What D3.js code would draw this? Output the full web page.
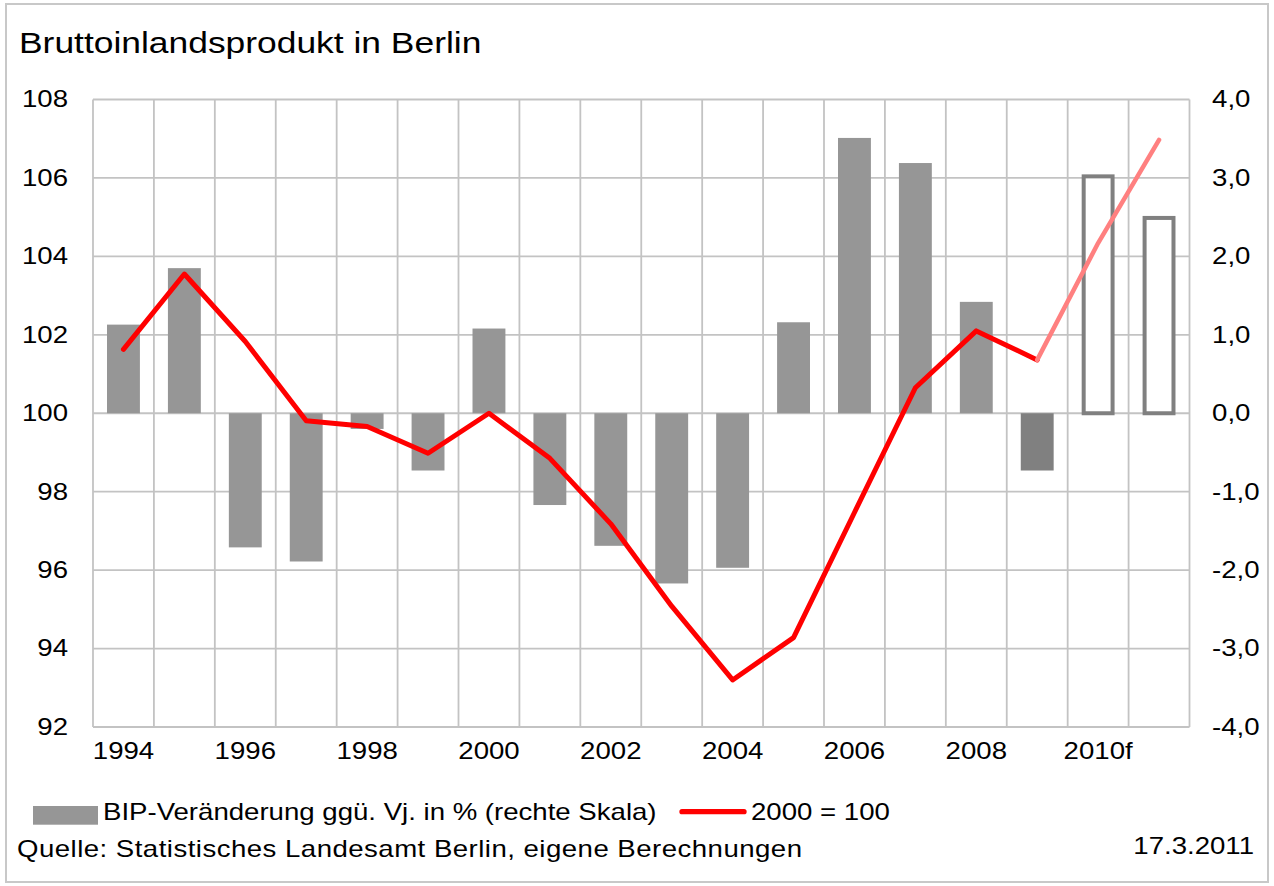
<!DOCTYPE html>
<html>
<head>
<meta charset="utf-8">
<script src="https://cdn.jsdelivr.net/npm/d3@7"></script>
<style>
  body { margin: 0; background: #fff; }
  svg { display: block; }
  text { font-family: "Liberation Sans", Arial, sans-serif; fill: #000; }
</style>
</head>
<body>
<svg id="chart" width="1274" height="886"></svg>
<script>
// data
const years = ["1994", "1995", "1996", "1997", "1998", "1999", "2000", "2001", "2002",
  "2003", "2004", "2005", "2006", "2007", "2008", "2009", "2010", "2011"];
// BIP-Veränderung ggü. Vorjahr in % (rechte Skala)
const bipChange = [1.13, 1.85, -1.71, -1.89, -0.20, -0.73, 1.08, -1.17, -1.69,
  -2.17, -1.97, 1.16, 3.51, 3.19, 1.42, -0.73, 3.02, 2.49];
// Index 2000 = 100 (linke Skala)
const bipIndex = [101.63, 103.55, 101.83, 99.81, 99.66, 98.98, 100.0, 98.85, 97.18,
  95.08, 93.2, 94.28, 97.47, 100.65, 102.1, 101.36, 104.34, 106.97];
// ist = amtlich, vorl = vorläufig, prog = Prognose
const barStatus = ["ist", "ist", "ist", "ist", "ist", "ist", "ist", "ist", "ist",
  "ist", "ist", "ist", "ist", "ist", "ist", "vorl", "prog", "prog"];
const lastActualYear = "2009";

const xTickYears = ["1994", "1996", "1998", "2000", "2002", "2004", "2006", "2008", "2010"];
const xTickLabels = ["1994", "1996", "1998", "2000", "2002", "2004", "2006", "2008", "2010f"];
const leftTicks = [92, 94, 96, 98, 100, 102, 104, 106, 108];
const rightTicks = [-4, -3, -2, -1, 0, 1, 2, 3, 4];

const SX = 1.2; // text in the original is drawn a little wide
const plot = { left: 93, right: 1189.5, top: 99.5, bottom: 727 };

const svg = d3.select("#chart");

// outer frame
svg.append("rect")
  .attr("x", 6).attr("y", 4).attr("width", 1262).attr("height", 878)
  .attr("fill", "none").attr("stroke", "#c8c8c8").attr("stroke-width", 2);

svg.append("text")
  .attr("transform", `translate(19,53) scale(${SX},1)`)
  .style("font-size", "29.5px")
  .text("Bruttoinlandsprodukt in Berlin");

let x = d3.scaleBand()
  .domain(years)
  .range([plot.left, plot.right])
  .paddingInner(0.46)
  .paddingOuter(0.23);

let yLeft = d3.scaleLinear().domain([92, 108]).range([plot.bottom, plot.top]);
let yRight = d3.scaleLinear().domain([-4, 4]).range([plot.bottom, plot.top]);

// grid
const grid = svg.append("g")
  .attr("stroke", "#c3c3c3")
  .attr("stroke-width", 1.8);

grid.selectAll(".hgrid")
  .data(leftTicks)
  .enter().append("line")
  .attr("class", "hgrid")
  .attr("x1", plot.left).attr("x2", plot.right)
  .attr("y1", d => yLeft(d)).attr("y2", d => yLeft(d));

const cellEdges = years.map(yr => x(yr) - x.step() * x.paddingInner() / 2).concat([plot.right]);
grid.selectAll(".vgrid")
  .data(cellEdges)
  .enter().append("line")
  .attr("class", "vgrid")
  .attr("x1", d => d).attr("x2", d => d)
  .attr("y1", plot.top).attr("y2", plot.bottom);

// bars (right scale)
const bars = years.map((yr, i) => ({ yr: yr, v: bipChange[i], s: barStatus[i] }));
const barFill = { ist: "#969696", vorl: "#808080", prog: "#fff" };

svg.append("g").selectAll("rect")
  .data(bars)
  .enter().append("rect")
  .attr("x", d => d.s === "prog" ? x(d.yr) + 2 : x(d.yr))
  .attr("width", d => d.s === "prog" ? x.bandwidth() - 4 : x.bandwidth())
  .attr("y", d => yRight(Math.max(0, d.v)))
  .attr("height", d => Math.abs(yRight(d.v) - yRight(0)))
  .attr("fill", d => barFill[d.s])
  .attr("stroke", d => d.s === "prog" ? "#808080" : "none")
  .attr("stroke-width", 4);

// index line (left scale)
const points = years.map((yr, i) => ({ yr: yr, v: bipIndex[i] }));
const cut = years.indexOf(lastActualYear);

let line = d3.line()
  .x(d => x(d.yr) + x.bandwidth() / 2)
  .y(d => yLeft(d.v));

svg.append("path")
  .datum(points.slice(0, cut + 1))
  .attr("d", line)
  .attr("fill", "none")
  .attr("stroke", "#ff0000")
  .attr("stroke-width", 5)
  .attr("stroke-linejoin", "round")
  .attr("stroke-linecap", "round");

svg.append("path")
  .datum(points.slice(cut))
  .attr("d", line)
  .attr("fill", "none")
  .attr("stroke", "#ff8080")
  .attr("stroke-width", 4.5)
  .attr("stroke-linejoin", "round")
  .attr("stroke-linecap", "round");

// axes
const de = d3.formatLocale({ decimal: ",", thousands: ".", grouping: [3], currency: ["", " €"], minus: "-" });

function styleAxis(g) {
  g.select(".domain").remove();
  g.attr("font-size", null).attr("font-family", null);
  g.selectAll("text")
    .attr("transform", `scale(${SX},1)`)
    .style("font-size", "23px");
}

svg.append("g")
  .attr("transform", `translate(${plot.left},0)`)
  .call(d3.axisLeft(yLeft).tickValues(leftTicks).tickSize(0).tickPadding(20.8).tickFormat(d3.format("d")))
  .call(styleAxis);

svg.append("g")
  .attr("transform", `translate(${plot.right},0)`)
  .call(d3.axisRight(yRight).tickValues(rightTicks).tickSize(0).tickPadding(18.8).tickFormat(de.format(".1f")))
  .call(styleAxis);

svg.append("g")
  .attr("transform", `translate(0,${plot.bottom})`)
  .call(d3.axisBottom(x).tickValues(xTickYears).tickSize(0).tickPadding(16)
    .tickFormat(d => xTickLabels[xTickYears.indexOf(d)]))
  .call(styleAxis);

// legend
svg.append("rect")
  .attr("x", 33).attr("y", 806).attr("width", 65).attr("height", 18.7)
  .attr("fill", barFill.ist);
svg.append("text")
  .attr("transform", `translate(103,820) scale(${SX},1)`)
  .style("font-size", "23px")
  .text("BIP-Veränderung ggü. Vj. in % (rechte Skala)");

svg.append("line")
  .attr("x1", 682).attr("x2", 744).attr("y1", 811.7).attr("y2", 811.7)
  .attr("stroke", "#ff0000").attr("stroke-width", 5.3).attr("stroke-linecap", "round");
svg.append("text")
  .attr("transform", `translate(751,819.5) scale(${SX},1)`)
  .style("font-size", "23px")
  .text("2000 = 100");

// source and date
svg.append("text")
  .attr("transform", `translate(17,857) scale(${SX},1)`)
  .style("font-size", "23px")
  .attr("textLength", 785 / SX)
  .attr("lengthAdjust", "spacing")
  .text("Quelle: Statistisches Landesamt Berlin, eigene Berechnungen");

svg.append("text")
  .attr("transform", `translate(1254,854) scale(${SX},1)`)
  .attr("text-anchor", "end")
  .style("font-size", "23px")
  .text("17.3.2011");
</script>
</body>
</html>
